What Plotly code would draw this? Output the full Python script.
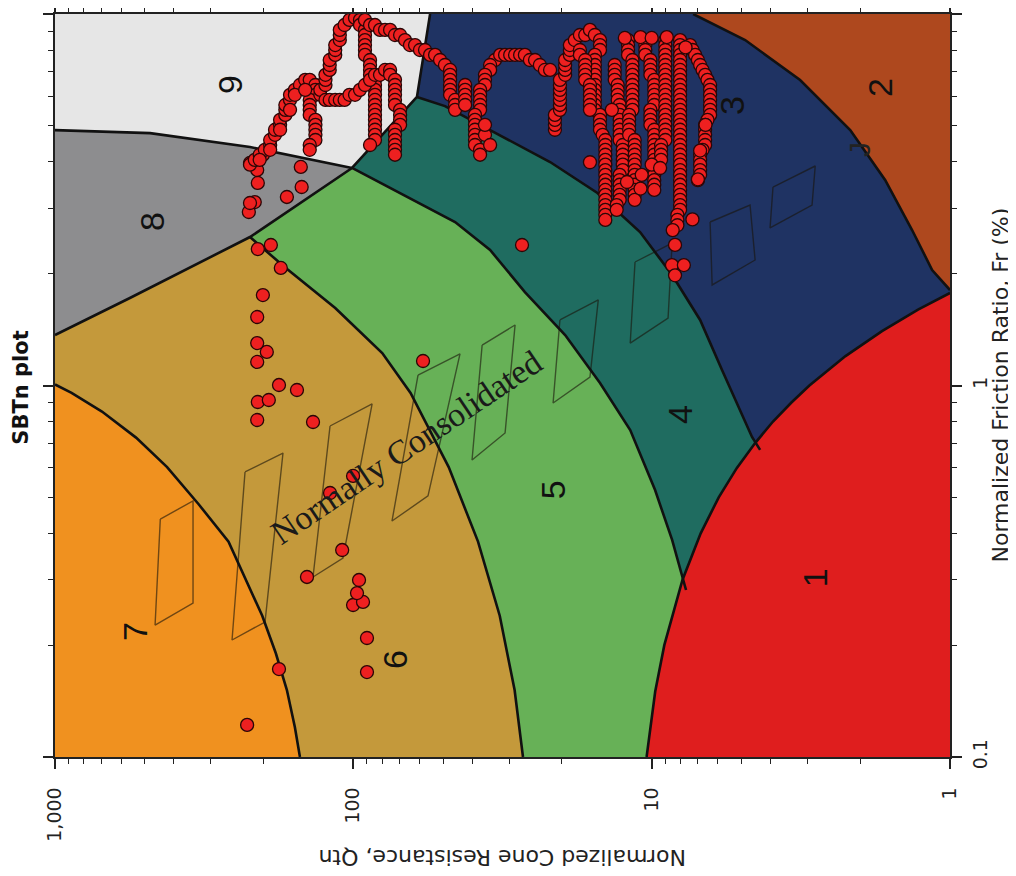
import numpy as np
import plotly.graph_objects as go

QMAX, QMIN, FMIN, FMAX = 1000, 1, 0.1, 10

# ---------------- zone boundaries: (Qtn, Fr %) ----------------
bnd_76 = [(1000, 1.006), (880, 0.955), (696, 0.851), (535, 0.724), (421, 0.603), (330, 0.479),
          (262, 0.380), (230, 0.302), (202, 0.240), (182, 0.1905), (167, 0.1514), (157, 0.1202), (151, 0.1)]
bnd_65 = [(222, 2.51), (170, 2.084), (115, 1.617), (80, 1.223), (64.3, 0.955), (47.9, 0.603),
          (38.2, 0.380), (32.3, 0.240), (28.8, 0.1514), (27.0, 0.1)]
bnd_54 = [(101, 3.851), (78.3, 3.465), (59.8, 3.099), (45.6, 2.755), (34.8, 2.316), (26.6, 1.785),
          (19.5, 1.367), (14.9, 1.016), (11.8, 0.759), (9.74, 0.523), (8.54, 0.384), (7.67, 0.2815)]
bnd_43 = [(61.2, 5.98), (49.3, 5.65), (34.8, 4.87), (21.9, 3.996), (15.2, 3.298), (10.94, 2.589),
          (8.54, 1.983), (6.88, 1.501), (5.81, 1.101), (5.05, 0.859), (4.61, 0.727), (4.33, 0.671)]
bnd_32 = [(7.26, 10), (4.86, 8.51), (3.18, 6.64), (2.16, 4.87), (1.65, 3.574), (1.34, 2.621),
          (1.148, 2.046), (1.0, 1.807)]
bnd_1 = [(10.4, 0.1), (9.73, 0.15), (9.07, 0.2), (7.88, 0.3), (6.85, 0.4), (5.96, 0.5), (5.18, 0.6),
         (4.50, 0.7), (3.92, 0.8), (3.40, 0.9), (2.96, 1.0), (2.24, 1.2), (1.69, 1.4), (1.28, 1.6), (1.0, 1.775)]
bnd_98 = [(1000, 4.87), (480, 4.78), (222, 4.385), (101, 3.851)]
bnd_8 = [(1000, 1.367), (561, 1.72), (222, 2.51), (101, 3.851)]
bnd_9 = [(55.3, 10), (61.2, 5.98), (101, 3.851)]

# ---------------- normally consolidated hatch (parallelogram corners) ----------------
nc_hatch = [
    [(443.6, 0.437), (344.6, 0.4889), (344.6, 0.2597), (461.9, 0.2266)],
    [(230.7, 0.5851), (172.1, 0.658), (197.7, 0.2309), (255, 0.2065)],
    [(119.7, 0.778), (86.5, 0.8917), (108.3, 0.3433), (136.5, 0.3052)],
    [(60.7, 1.067), (43.9, 1.216), (56.2, 0.5044), (74.2, 0.4317)],
    [(37.0, 1.285), (28.7, 1.455), (31.0, 0.7451), (40.0, 0.6303)],
    [(20.3, 1.501), (15.1, 1.699), (16.1, 1.054), (21.4, 0.8973)],
    [(11.37, 2.15), (8.54, 2.418), (8.81, 1.519), (11.8, 1.301)],
    [(6.37, 2.755), (4.68, 3.061), (4.50, 2.177), (6.27, 1.865)],
    [(3.92, 3.422), (2.83, 3.898), (2.90, 3.061), (4.01, 2.655)],
]

# ---------------- CPT data points: (Qtn, Fr %) ----------------
pts_isolated = [(227, 0.122), (177.5, 0.1725), (90.0, 0.1693), (90.0, 0.2091), (100.2, 0.2565), (92.8, 0.2614),
                (97.2, 0.2763), (95.7, 0.2995), (143, 0.3052), (109, 0.3607), (119.7, 0.5136), (100.2, 0.5708),
                (136.5, 0.7975), (210, 0.8075), (209, 0.9028), (192, 0.9141), (154.5, 0.9725), (177.5, 1.003),
                (210, 1.157), (195, 1.231), (210, 1.301), (210, 1.529), (201, 1.752), (175, 2.072), (209, 2.33),
                (189, 2.389), (58.4, 1.164), (27.2, 2.389), (224, 2.931), (214, 3.118), (222, 3.099), (167, 3.217),
                (149, 3.422), (150, 3.875), (209, 3.509), (210, 3.803), (222, 3.971), (201, 4.174)]
pts_ula = [(222, 3.93), (214, 4.05), (206, 4.18), (198, 4.31), (190, 4.44), (190, 4.58), (183, 4.73), (183, 4.88),
           (176, 5.03), (176, 5.19), (169, 5.35), (169, 5.52), (169, 5.69), (163, 5.87), (163, 6.06), (157, 6.25),
           (151, 6.44), (145, 6.65), (140, 6.65), (134, 6.44), (134, 6.25), (134, 6.06), (140, 5.87), (140, 5.69),
           (140, 5.52), (140, 5.35), (134, 5.19), (134, 5.03), (134, 4.88), (134, 4.73), (134, 4.58), (140, 4.44),
           (140, 4.31), (206, 4.05), (190, 4.31), (176, 4.88), (163, 5.52), (157, 6.06), (145, 6.25)]
pts_ulb = [(129, 6.06), (129, 6.25), (124, 6.44), (124, 6.65), (124, 6.86), (120, 7.07), (120, 7.29), (120, 7.52),
           (115, 7.76), (115, 8.00), (115, 8.25), (111, 8.51), (111, 8.78), (111, 9.06), (107, 9.34), (103, 9.64),
           (98.7, 9.76), (95.0, 9.64), (95.0, 9.34), (91.4, 9.06), (91.4, 8.78), (91.4, 8.51), (91.4, 8.25),
           (91.4, 8.00), (91.4, 7.76), (87.9, 7.52), (87.9, 7.29), (87.9, 7.07), (87.9, 6.86), (84.6, 6.65),
           (84.6, 6.44), (84.6, 6.25), (84.6, 6.06), (84.6, 5.87), (84.6, 5.69), (84.6, 5.52), (84.6, 5.35),
           (84.6, 5.19), (84.6, 5.03), (84.6, 4.88), (84.6, 4.73), (84.6, 4.58), (87.9, 4.44)]
pts_ulc = [(124, 5.87), (120, 5.87), (115, 5.87), (111, 5.87), (107, 5.87), (103, 6.06), (98.7, 6.06), (95.0, 6.25),
           (91.4, 6.44), (87.9, 6.65), (84.6, 6.86), (81.4, 6.86), (78.3, 7.07), (75.3, 7.07), (75.3, 6.86),
           (72.5, 6.65), (72.5, 6.44), (72.5, 6.25), (72.5, 6.06), (72.5, 5.87), (72.5, 5.69), (69.7, 5.52),
           (69.7, 5.35), (69.7, 5.19), (69.7, 5.03), (72.5, 4.88), (72.5, 4.73), (72.5, 4.58), (72.5, 4.44),
           (72.5, 4.31), (72.5, 4.18)]
pts_uld = [(91.4, 9.64), (87.9, 9.34), (84.6, 9.34), (81.4, 9.06), (78.3, 9.06), (75.3, 9.06), (72.5, 8.78),
           (69.7, 8.78), (67.1, 8.51), (64.6, 8.25), (62.1, 8.25), (59.8, 8.00), (57.5, 8.00), (55.3, 7.76),
           (53.2, 7.76), (51.2, 7.52), (49.3, 7.29), (47.4, 7.07), (47.4, 6.86), (47.4, 6.65), (47.4, 6.44),
           (47.4, 6.25), (47.4, 6.06), (45.6, 5.87), (45.6, 5.69), (45.6, 5.52)]
pts_rb = [(42.2, 6.44), (42.2, 6.25), (42.2, 6.06), (42.2, 5.87), (42.2, 5.69)]
pts_rc = [(33.5, 7.52), (34.8, 7.29), (34.8, 7.07), (36.2, 6.86), (36.2, 6.65), (36.2, 6.44), (37.6, 6.25),
          (37.6, 6.06), (37.6, 5.87), (37.6, 5.69), (37.6, 5.52), (39.1, 5.35), (39.1, 5.19), (39.1, 5.03),
          (39.1, 4.88), (39.1, 4.73), (39.1, 4.58), (39.1, 4.44), (37.6, 4.31), (37.6, 4.18), (36.2, 4.73),
          (34.8, 4.44), (36.2, 5.03)]
pts_rd = [(32.2, 7.76), (31.0, 7.76), (29.8, 7.76), (28.7, 7.76), (27.6, 7.76), (26.6, 7.76), (25.6, 7.52),
          (24.6, 7.52), (23.7, 7.29), (22.8, 7.07), (21.9, 7.07)]
pts_re = [(21.1, 4.88), (21.1, 5.03), (21.1, 5.19), (21.1, 5.35), (20.3, 5.52), (20.3, 5.69), (20.3, 5.87),
          (20.3, 6.06), (20.3, 6.25), (20.3, 6.44), (20.3, 6.65), (19.5, 6.86), (19.5, 7.07), (19.5, 7.29),
          (19.5, 7.52), (18.8, 7.76), (18.8, 8.00), (18.8, 8.25), (18.1, 8.51), (17.4, 8.78), (16.7, 8.78),
          (16.1, 9.06), (15.5, 8.78)]
pts_rf = [(14.9, 8.51), (14.9, 8.25), (14.9, 8.00), (15.5, 7.76), (15.5, 7.52), (15.5, 7.29), (15.5, 7.07),
          (15.5, 6.86), (15.5, 6.65), (15.5, 6.44), (15.5, 6.25), (15.5, 6.06), (15.5, 5.87), (15.5, 5.69),
          (15.5, 5.52), (14.9, 5.35), (14.9, 5.19), (14.9, 5.03), (14.9, 4.88), (14.6, 4.73), (14.3, 4.58),
          (14.3, 4.44), (14.3, 4.31), (14.3, 4.18), (14.3, 4.05), (14.3, 3.93), (14.3, 3.80), (14.3, 3.69),
          (14.3, 3.57), (14.3, 3.47), (14.3, 3.36), (14.3, 3.26), (14.3, 3.16), (14.3, 3.06), (14.3, 2.97),
          (14.3, 2.88), (14.3, 2.79)]
pts_rg = [(17.4, 8.00), (17.4, 7.76), (16.7, 7.52), (16.7, 7.29), (16.7, 7.07), (16.7, 6.86), (16.7, 6.65),
          (16.1, 6.44), (16.1, 6.25), (16.1, 6.06), (16.1, 5.87), (16.1, 5.69), (16.1, 5.52)]
pts_d1 = [(13.3, 7.29), (13.3, 7.07), (13.3, 6.86), (13.3, 6.65), (13.0, 6.44), (13.0, 6.25), (13.0, 6.06),
          (13.0, 5.87), (12.8, 5.69), (12.8, 5.52), (12.8, 5.35), (12.8, 5.19), (12.8, 5.03), (12.8, 4.88),
          (12.8, 4.73), (12.8, 4.58), (12.5, 4.44), (12.5, 4.31), (12.5, 4.18), (12.5, 4.05), (12.5, 3.93),
          (12.5, 3.80), (12.8, 3.69), (12.8, 3.57), (12.8, 3.47), (12.8, 3.36), (12.8, 3.26), (12.8, 3.16),
          (13.1, 3.06), (13.1, 2.97)]
pts_d2 = [(12.0, 8.51), (12.0, 8.25), (12.0, 8.00), (12.0, 7.76), (11.6, 7.52), (11.6, 7.29), (11.6, 7.07),
          (11.6, 6.86), (11.6, 6.65), (11.6, 6.44), (11.6, 6.25), (11.6, 6.06), (11.6, 5.87), (11.6, 5.69),
          (11.6, 5.52), (11.9, 5.35), (11.9, 5.19), (11.9, 5.03), (11.9, 4.88), (11.9, 4.73), (11.4, 4.58),
          (11.4, 4.44), (11.4, 4.31), (11.4, 4.18), (11.4, 4.05), (11.4, 3.93), (11.4, 3.80), (11.4, 3.69),
          (11.4, 3.57), (11.4, 3.47), (11.4, 3.36), (11.4, 3.26), (11.4, 3.16)]
pts_d3 = [(10.5, 8.51), (10.5, 8.25), (10.5, 8.00), (10.5, 7.76), (10.1, 7.52), (10.1, 7.29), (10.1, 7.07),
          (10.1, 6.86), (9.8, 6.65), (9.8, 6.44), (9.8, 6.25), (9.8, 6.06), (9.8, 5.87), (9.8, 5.69), (10.1, 5.52),
          (10.1, 5.35), (10.1, 5.19), (10.1, 5.03), (9.8, 4.88), (9.8, 4.73), (9.8, 4.58), (9.8, 4.44), (9.8, 4.31),
          (9.8, 4.18), (9.8, 4.05), (9.8, 3.93), (9.8, 3.80), (9.8, 3.69), (9.8, 3.57), (9.8, 3.47), (9.8, 3.36)]
pts_d6 = [(9.0, 8.51), (9.0, 8.25), (9.0, 8.00), (9.0, 7.76), (9.0, 7.52), (9.0, 7.29), (9.0, 7.07), (9.0, 6.86),
          (9.0, 6.65), (9.0, 6.44), (9.0, 6.25), (9.0, 6.06), (9.0, 5.87), (9.0, 5.69), (9.0, 5.52), (9.0, 5.35),
          (9.0, 5.19), (9.0, 5.03), (9.0, 4.88), (9.0, 4.73), (9.0, 4.58), (9.3, 4.44), (9.3, 4.31), (9.3, 4.18),
          (9.3, 4.05)]
pts_d4 = [(8.03, 8.51), (8.03, 8.25), (8.03, 8.00), (8.03, 7.76), (8.03, 7.52), (8.03, 7.29), (8.03, 7.07),
          (8.03, 6.86), (8.03, 6.65), (8.03, 6.44), (8.03, 6.25), (8.03, 6.06), (8.03, 5.87), (8.03, 5.69),
          (8.03, 5.52), (8.03, 5.35), (8.03, 5.19), (8.03, 5.03), (8.03, 4.88), (8.03, 4.73), (8.03, 4.58),
          (8.03, 4.44), (8.03, 4.31), (8.03, 4.18), (8.03, 4.05), (8.03, 3.93), (8.03, 3.80), (8.03, 3.69),
          (8.03, 3.57), (8.03, 3.47), (8.03, 3.36), (8.03, 3.26), (8.03, 3.16), (8.03, 3.06), (8.03, 2.97),
          (8.2, 2.88), (8.2, 2.79), (8.2, 2.70), (8.5, 2.62), (8.35, 2.39), (8.55, 2.11), (7.8, 2.11), (8.35, 1.98)]
pts_d5 = [(7.43, 8.25), (7.29, 8.00), (7.15, 7.76), (7.0, 7.52), (6.88, 7.29), (6.75, 7.07), (6.62, 6.86),
          (6.5, 6.65), (6.37, 6.44), (6.37, 6.25), (6.37, 6.06), (6.37, 5.87), (6.37, 5.69), (6.37, 5.52),
          (6.37, 5.35), (6.5, 5.19), (6.62, 5.03), (6.62, 4.88), (6.62, 4.73), (6.62, 4.58), (6.62, 4.44),
          (6.75, 4.31), (6.88, 4.18), (6.88, 4.05), (6.88, 3.93), (6.88, 3.80), (6.88, 3.69), (7.0, 3.57)]
pts_scatter = [(13.6, 5.52), (16.1, 3.99), (12.1, 3.53), (10.9, 3.39), (10.0, 3.93), (9.37, 3.85), (10.8, 3.69),
               (7.3, 2.80), (7.0, 3.59), (6.88, 4.29), (6.6, 5.03), (12.3, 8.62), (10.9, 8.67), (10.0, 8.62),
               (8.9, 8.67), (7.7, 8.13)]

# ---------------- labels ----------------
zone_names = ['1', '2', '3', '4', '5', '6', '7', '8', '9']
zone_lab_q = [2.83, 1.716, 5.38, 8.03, 21.4, 72.5, 539, 473, 259]
zone_lab_fr = [0.3032, 6.32, 5.69, 0.833, 0.523, 0.1825, 0.2171, 2.755, 6.44]

zone_colors = {
    '1': '#df1e1e', '2': '#ae481e', '3': '#1f3363', '4': '#1f6c60', '5': '#67b157',
    '6': '#c4993b', '7': '#f0911f', '8': '#8d8d8f', '9': '#e6e6e6',
}


def split(pts):
    return [p[0] for p in pts], [p[1] for p in pts]


fig = go.Figure()


def region(pts, color):
    q, f = split(pts)
    fig.add_trace(go.Scatter(x=q, y=f, mode='lines', fill='toself', fillcolor=color,
                             line=dict(width=0, color=color), hoverinfo='skip', showlegend=False))


region([(QMAX, FMAX)] + bnd_32 + [(QMIN, FMIN), (QMAX, FMIN)], zone_colors['3'])
region([(QMAX, FMAX)] + bnd_9[:2] + bnd_43 + [(QMIN, FMIN), (QMAX, FMIN)], zone_colors['4'])
region([(QMAX, FMAX)] + bnd_54 + [(QMIN, FMIN), (QMAX, FMIN)], zone_colors['5'])
region([(QMAX, FMAX)] + bnd_65 + [(QMAX, FMIN)], zone_colors['6'])
region(bnd_76 + [(QMAX, FMIN)], zone_colors['7'])
region(bnd_98 + bnd_8[::-1], zone_colors['8'])
region([(QMAX, FMAX)] + bnd_9 + bnd_98[::-1], zone_colors['9'])
region(bnd_1 + [(QMIN, FMIN)], zone_colors['1'])

# hatch
hq, hf = [], []
for para in nc_hatch:
    q, f = split(para + [para[0]])
    hq += q + [None]
    hf += f + [None]
fig.add_trace(go.Scatter(x=hq, y=hf, mode='lines', line=dict(color='rgba(25,20,10,0.6)', width=1.4),
                         hoverinfo='skip', showlegend=False))

# boundary lines
for b in [bnd_76, bnd_65, bnd_54, bnd_43, bnd_32, bnd_1, bnd_98, bnd_8, bnd_9]:
    q, f = split(b)
    fig.add_trace(go.Scatter(x=q, y=f, mode='lines', line=dict(color='#111', width=2.6),
                             hoverinfo='skip', showlegend=False))

# data points
all_pts = (pts_isolated + pts_ula + pts_ulb + pts_ulc + pts_uld + pts_rb + pts_rc + pts_rd + pts_re + pts_rf +
           pts_rg + pts_d1 + pts_d2 + pts_d3 + pts_d6 + pts_d4 + pts_d5 + pts_scatter)
cq, cf = split(all_pts)
fig.add_trace(go.Scatter(x=cq, y=cf, mode='markers',
                         marker=dict(size=13, color='#ee2020', line=dict(color='#2a0606', width=1.3)),
                         showlegend=False))

annotations = []
for name, q, f in zip(zone_names, zone_lab_q, zone_lab_fr):
    annotations.append(dict(x=np.log10(q), y=np.log10(f), xref='x', yref='y', text=name, showarrow=False,
                            xanchor='center', yanchor='middle', textangle=-90,
                            font=dict(family='Liberation Sans', size=34, color='#111')))
annotations.append(dict(x=np.log10(66.6), y=np.log10(0.683), xref='x', yref='y', text='Normally Consolidated',
                        showarrow=False, textangle=-34, xanchor='center', yanchor='middle',
                        font=dict(family='Liberation Serif', size=34, color='#1a1a1a')))
annotations.append(dict(x=np.log10(2.0), y=np.log10(4.31), xref='x', yref='y', text='J', showarrow=False,
                        xanchor='center', yanchor='middle', textangle=-90,
                        font=dict(family='Liberation Sans', size=30, color='#222')))
annotations.append(dict(x=-0.0380, y=0.497, xref='paper', yref='paper', text='<b>SBTn plot</b>', showarrow=False,
                        xanchor='center', yanchor='middle', textangle=-90,
                        font=dict(family='DejaVu Sans', size=21, color='#111')))
annotations.append(dict(x=0.5, y=-0.136, xref='paper', yref='paper', text='Normalized Cone Resistance, Qtn',
                        showarrow=False, xanchor='center', yanchor='middle', textangle=180,
                        font=dict(family='DejaVu Sans', size=22, color='#222')))
annotations.append(dict(x=1.0559, y=0.5, xref='paper', yref='paper', text='Normalized Friction Ratio, Fr (%)',
                        showarrow=False, xanchor='center', yanchor='middle', textangle=-90,
                        font=dict(family='DejaVu Sans', size=22, color='#222')))

minor_q = [m * d for d in (1, 10, 100) for m in range(2, 10)]
minor_f = [m * d for d in (0.1, 1) for m in range(2, 10)]

tickfont = dict(family='DejaVu Sans', size=19, color='#222')
fig.update_layout(
    width=1008, height=868,
    margin=dict(l=47, r=66, t=6, b=119),
    paper_bgcolor='white', plot_bgcolor=zone_colors['2'],
    showlegend=False,
    annotations=annotations,
    xaxis=dict(type='log', range=[3, 0], tickmode='array', tickvals=[1000, 100, 10, 1],
               ticktext=['1,000', '100', '10', '1'], ticks='outside', ticklen=10, tickwidth=1.5,
               tickcolor='#222', tickangle=-90, tickfont=tickfont, ticklabelstandoff=11, automargin=False,
               showline=True, linecolor='#222', linewidth=1.5, mirror='allticks',
               showgrid=False, zeroline=False,
               minor=dict(tickmode='array', tickvals=minor_q, ticks='outside', ticklen=5, tickwidth=1.2,
                          tickcolor='#222', showgrid=False)),
    yaxis=dict(type='log', range=[-1, 1], side='right', tickmode='array', tickvals=[0.1, 1, 10],
               ticktext=['0.1', '1', '10'], ticks='outside', ticklen=10, tickwidth=1.5,
               tickcolor='#222', tickangle=-90, tickfont=tickfont, ticklabelstandoff=2, automargin=False,
               showline=True, linecolor='#222', linewidth=1.5, mirror='allticks',
               showgrid=False, zeroline=False,
               minor=dict(tickmode='array', tickvals=minor_f, ticks='outside', ticklen=5, tickwidth=1.2,
                          tickcolor='#222', showgrid=False)),
)

fig.write_html('out.html')
